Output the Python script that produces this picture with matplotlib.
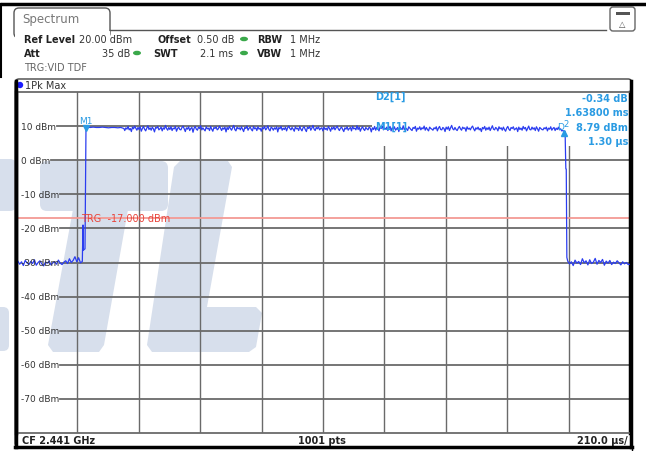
import numpy as np
import matplotlib
matplotlib.use('Agg')
import matplotlib.pyplot as plt
from matplotlib.patches import Polygon, FancyBboxPatch, Rectangle, Ellipse, Circle

# ---------------- data ----------------
sweep_us = 2100.0
div_us = 210.0
y_top, y_bottom = 20, -80
y_ticks = [10, 0, -10, -20, -30, -40, -50, -60, -70]
y_tick_labels = ['10 dBm', '0 dBm', '-10 dBm', '-20 dBm', '-30 dBm',
                 '-40 dBm', '-50 dBm', '-60 dBm', '-70 dBm']
trg_level = -17.0

pre_noise = [-30.2, -29.6, -30.5, -29.8, -30.9, -29.4, -30.1, -30.6, -29.7, -30.3,
             -29.2, -30.8, -30.0, -29.5, -30.4, -31.0, -29.9, -30.2, -29.6, -30.7,
             -30.1, -29.8, -30.5, -29.3, -30.2, -30.6, -29.9, -29.5, -30.3, -28.9,
             -30.0, -29.4, -28.3, -29.8, -28.6, -30.1, -29.7]
edge_t = [229.2, 230.5, 232.6, 236.0, 239.4]
edge_v = [-19.0, -26.4, -26.2, -26.0, 9.9]
flat_v = [9.7, 9.6, 9.7, 9.6, 9.6, 9.7, 9.6, 9.5, 9.6, 9.6, 9.5, 9.6, 9.3]
on_v = [
    8.7, 9.5, 9.1, 9.9, 8.9, 9.3, 8.4, 9.7, 9.2, 10.0, 9.4, 8.8, 9.6, 9.0, 9.8, 8.5, 9.3, 9.9, 9.1, 8.6,
    9.4, 10.1, 9.0, 9.5, 8.8, 9.7, 9.2, 8.3, 9.6, 9.4, 9.9, 8.9, 9.2, 9.7, 8.6, 9.5, 9.1, 10.2, 9.3, 8.8,
    9.6, 9.0, 9.8, 8.7, 9.4, 9.2, 9.9, 8.5, 9.3, 9.7, 9.0, 8.9, 9.6, 10.0, 9.2, 8.4, 9.5, 9.1, 9.8, 8.7,
    9.3, 9.6, 8.2, 9.4, 9.9, 9.1, 8.8, 9.7, 9.3, 10.1, 8.9, 9.5, 9.0, 8.6, 9.8, 9.2, 9.4, 8.7, 9.9, 9.1,
    8.5, 9.6, 9.3, 9.8, 8.9, 9.2, 10.0, 9.4, 8.7, 9.5, 9.1, 9.7, 8.3, 9.6, 9.0, 9.9, 9.3, 8.8, 9.5, 10.2,
    9.0, 8.6, 9.7, 9.2, 9.5, 8.9, 9.8, 9.1, 8.4, 9.6, 9.3, 10.0, 8.8, 9.4, 9.7, 9.0, 8.6, 9.9, 9.2, 9.5,
    8.7, 9.8, 9.1, 9.4, 8.5, 9.6, 9.2, 9.9, 8.9, 9.3, 10.1, 9.0, 8.6, 9.7, 9.4, 8.8, 9.5, 9.1, 9.8, 8.3,
    9.6, 9.2, 9.9, 8.8, 9.4, 9.0, 9.7, 8.6, 9.5, 10.0, 9.3, 8.9, 9.6, 9.1, 8.5, 9.8, 9.2, 9.4, 8.7, 9.9,
    9.1, 8.6, 9.5, 9.8, 9.0, 8.4, 9.7, 9.3, 9.9, 8.8, 9.4, 10.2, 9.1, 8.7, 9.6, 9.2, 9.8, 8.9, 9.3, 9.5,
    8.6, 9.7, 9.0, 9.4, 8.8, 9.9, 9.3, 8.5, 9.6, 9.1, 9.8, 8.9, 9.5, 10.0, 9.2, 8.7, 9.4, 9.7, 9.0, 8.4,
    9.5, 9.1, 9.8, 8.8, 9.3, 9.6, 8.6, 9.9, 9.2, 9.4, 8.9, 10.1, 9.0, 9.7, 8.5, 9.3, 9.8, 9.1, 8.7, 9.6,
    9.2, 8.9, 9.7, 9.4, 8.3, 9.5, 9.0, 9.9, 8.8, 9.6, 9.2, 8.6, 9.8, 9.3, 10.0, 8.9, 9.4, 9.1, 9.7, 8.7,
    9.3, 9.9, 8.6, 9.5, 9.1, 9.8, 8.8, 9.2, 9.6, 8.4, 9.7, 9.3, 9.0, 10.1, 8.9, 9.5, 9.2, 8.7, 9.8, 9.4,
    9.0, 8.7, 9.6, 9.3, 9.9, 8.5, 9.4, 9.1, 9.8, 8.9, 9.5, 9.2, 10.0, 8.8, 9.6, 9.0, 8.6, 9.7, 9.3, 9.1,
    8.8, 9.5, 9.2, 9.8, 8.6, 9.4, 9.9, 9.0, 8.9, 9.6, 9.3, 8.4, 9.7, 9.1, 9.8, 8.7, 9.5, 10.2, 9.2, 8.9,
    9.6, 9.0, 8.7, 9.4, 9.9, 9.2, 8.8, 9.7, 9.3, 9.5, 8.5, 9.8, 9.1, 9.4, 8.9, 9.6, 10.0, 9.2, 8.6, 9.5,
    9.1, 9.7, 8.9, 9.3, 8.4, 9.6, 9.2, 9.9, 8.8, 9.5, 9.0, 9.7, 8.7, 9.4, 10.1, 9.1, 8.9, 9.6, 9.3, 8.6,
    9.8, 9.2, 9.5, 8.8, 9.7, 9.0, 8.5, 9.4, 9.9, 9.1, 8.7, 9.6, 9.3, 9.8, 8.9, 9.2, 9.5, 8.4, 9.7, 9.0,
    9.4, 8.8, 9.9, 9.2, 9.6, 8.6, 9.3, 10.0, 9.0, 8.9, 9.7, 9.1, 9.5, 8.7, 9.8, 9.2, 8.5, 9.6, 9.3, 9.0,
    8.9, 9.5, 9.2, 9.7, 8.6, 9.4, 9.1, 9.8, 8.8, 9.3, 9.6, 8.7, 9.4, 9.0, 9.7, 8.9, 9.2, 8.6, 8.7, 8.5]
fall_t = [1878.0, 1880.5, 1882.0, 1884.0]
fall_v = [8.45, -2.5, -2.6, -28.5]
post_noise = [-29.6, -30.4, -29.8, -30.9, -29.3, -30.2, -29.7, -30.6, -28.9, -30.1,
              -29.5, -30.7, -29.2, -30.3, -29.9, -28.8, -30.5, -29.4, -30.0, -29.1,
              -30.8, -29.6, -30.2, -29.4, -30.6, -29.9, -30.3, -29.5, -30.1, -30.7,
              -29.8, -30.4, -30.0, -30.6, -30.5]

m1_t = 239.4
d2_t = 1878.0

# time positions of the sweep points in each segment
pre_t = np.linspace(0, 226.8, len(pre_noise))
flat_t = np.linspace(243, 369, len(flat_v))
on_t = np.linspace(372, 1874, len(on_v))
post_t = np.linspace(1887, 2100, len(post_noise))

t = np.concatenate([pre_t, edge_t, flat_t, on_t, fall_t, post_t])
v = np.concatenate([pre_noise, edge_v, flat_v, on_v, fall_v, post_noise])

# ---------------- figure ----------------
W, H = 646, 452
fig = plt.figure(figsize=(W / 100, H / 100), dpi=100)
fig.patch.set_facecolor('white')

# background / chrome axes in pixel coordinates (y downwards)
bg = fig.add_axes([0, 0, 1, 1], zorder=0)
bg.set_xlim(0, W)
bg.set_ylim(H, 0)
bg.axis('off')

wm = '#d7dfec'
# watermark letters (C, T, L)
bg.add_patch(FancyBboxPatch((-20, 160), 36, 52, boxstyle='round,pad=0,rounding_size=6',
                            fc=wm, ec='none'))
bg.add_patch(FancyBboxPatch((-20, 308), 29, 44, boxstyle='round,pad=0,rounding_size=6',
                            fc=wm, ec='none'))
bg.add_patch(FancyBboxPatch((40, 162), 128, 50, boxstyle='round,pad=0,rounding_size=7',
                            fc=wm, ec='none'))
bg.add_patch(Polygon([(74, 205), (129, 205), (104, 346), (99, 353), (53, 353), (48, 346)],
                     closed=True, fc=wm, ec='none'))
bg.add_patch(Polygon([(180, 162), (228, 162), (232, 168), (207, 308), (256, 308), (262, 314),
                      (256, 348), (249, 353), (152, 353), (147, 346), (174, 168)],
                     closed=True, fc=wm, ec='none'))

# top black rule and left short rule
bg.plot([0, W], [5, 5], color='black', lw=2.5, solid_capstyle='butt')
bg.plot([1, 1], [5, 78], color='black', lw=1.5)

# Spectrum tab
bg.plot([110, 606], [31, 31], color='#555555', lw=1.0)
bg.add_patch(FancyBboxPatch((14, 9), 96, 30, boxstyle='round,pad=0,rounding_size=5',
                            fc='white', ec='#555555', lw=1.0))
bg.add_patch(Rectangle((14.6, 31.5), 95, 10, fc='white', ec='none'))
bg.text(22, 20, 'Spectrum', fontsize=8.5, color='#777777', va='center', ha='left')

# icon top right
bg.add_patch(FancyBboxPatch((610, 8), 25, 24, boxstyle='round,pad=0,rounding_size=3',
                            fc='white', ec='#666666', lw=1.0))
bg.add_patch(Rectangle((615.5, 12.5), 14, 3.5, fc='#555555', ec='none'))
bg.text(622.5, 24, '\u25b3', fontsize=6, color='#555555', ha='center', va='center')

# info lines
fs = 7
dark = '#222222'
bg.text(24, 40, 'Ref Level', fontsize=fs, weight='bold', color=dark, va='center')
bg.text(79, 40, '20.00 dBm', fontsize=fs, color='#333333', va='center')
bg.text(157, 40, 'Offset', fontsize=fs, weight='bold', color=dark, va='center')
bg.text(197, 40, '0.50 dB', fontsize=fs, color='#333333', va='center')
bg.text(257, 40, 'RBW', fontsize=fs, weight='bold', color=dark, va='center')
bg.text(290, 40, '1 MHz', fontsize=fs, color='#333333', va='center')
bg.text(24, 54, 'Att', fontsize=fs, weight='bold', color=dark, va='center')
bg.text(130, 54, '35 dB', fontsize=fs, color='#333333', va='center', ha='right')
bg.text(153, 54, 'SWT', fontsize=fs, weight='bold', color=dark, va='center')
bg.text(200, 54, '2.1 ms', fontsize=fs, color='#333333', va='center')
bg.text(257, 54, 'VBW', fontsize=fs, weight='bold', color=dark, va='center')
bg.text(290, 54, '1 MHz', fontsize=fs, color='#333333', va='center')
bg.text(24, 68, 'TRG:VID TDF', fontsize=fs, color='#666666', va='center')
for (gx, gy) in [(244, 40), (137, 54), (244, 54)]:
    bg.add_patch(Ellipse((gx, gy), 8, 4.5, fc='#3aa84a', ec='none'))

# 1Pk Max bar
bg.add_patch(Circle((20, 86), 3.2, fc='#1a1aff', ec='none'))
bg.text(25, 86, '1Pk Max', fontsize=fs, color='#333333', va='center')

# bottom bar
bg.text(22, 441, 'CF 2.441 GHz', fontsize=fs, weight='bold', color=dark, va='center')
bg.text(322, 441, '1001 pts', fontsize=fs, weight='bold', color=dark, va='center', ha='center')
bg.text(628, 441, '210.0 \u00b5s/', fontsize=fs, weight='bold', color=dark, va='center', ha='right')

# ---------------- main plot axes ----------------
ax = fig.add_axes([16 / W, (H - 434) / H, 614 / W, 341 / H], zorder=1)
ax.patch.set_alpha(0)
ax.set_xlim(0, sweep_us)
ax.set_ylim(y_bottom, y_top)
ax.set_xticks([])
ax.set_yticks([])
for s in ['top', 'bottom']:
    ax.spines[s].set_color('#6a6a6a')
    ax.spines[s].set_linewidth(1.3)
for s in ['left', 'right']:
    ax.spines[s].set_color('black')
    ax.spines[s].set_linewidth(2.5)

grid_c = '#6a6a6a'
px2t = sweep_us / 614.0
lbls = []
for val, lab in zip(y_ticks, y_tick_labels):
    lbls.append(ax.text(5 * px2t, val, lab, fontsize=6.5, color='#333333',
                        ha='left', va='center', zorder=4))
fig.canvas.draw()
inv = ax.transData.inverted()
box_left_t = (372 - 16) * px2t
box_bottom_v = y_top - (147 - 93) / 341.0 * (y_top - y_bottom)
for val, tl in zip(y_ticks, lbls):
    bb = tl.get_window_extent()
    x0 = inv.transform((bb.x1 + 1, 0))[0]
    ax.plot([x0, sweep_us], [val, val], color=grid_c, lw=1.3, zorder=1)

for k in range(1, 10):
    ax.axvline(k * div_us, color=grid_c, lw=1.0, zorder=1)

# white box behind marker table
ax.add_patch(Rectangle((box_left_t, box_bottom_v), sweep_us - box_left_t,
                       y_top - box_bottom_v, fc='white', ec='none', zorder=1.5))

# trigger line
ax.axhline(trg_level, color='#f39a94', lw=1.3, zorder=2)
ax.text(222, trg_level, 'TRG  -17.000 dBm', fontsize=7, color='#e8453c',
        va='center', ha='left', zorder=4)

# trace
ax.plot(t, v, color='#2b3df0', lw=0.9, zorder=3)

mk = '#2a9be3'
ax.plot([m1_t], [9.3], marker='v', ms=5, color=mk, zorder=4, ls='none')
ax.text(m1_t - 24, 11.7, 'M1', fontsize=6.5, color=mk, ha='left', va='center', zorder=4)
ax.plot([d2_t - 4], [7.9], marker='^', ms=5, color=mk, zorder=4, ls='none')
ax.text(d2_t - 28, 10.0, 'D', fontsize=6.5, color=mk, ha='left', va='center', zorder=4)
ax.text(d2_t - 6, 10.9, '2', fontsize=6.0, color=mk, ha='left', va='center', zorder=4)

ax.text((375 - 16) * px2t, 17.9, 'D2[1]', fontsize=7, color=mk, weight='bold', zorder=4)
ax.text((375 - 16) * px2t, 10.2, 'M1[1]', fontsize=7, color=mk, weight='bold', zorder=4,
        va='center')
rx = (628 - 16) * px2t
for yy, s in [(97.5, '-0.34 dB'), (111, '1.63800 ms'), (126, '8.79 dBm'), (140, '1.30 \u00b5s')]:
    ax.text(rx, y_top - (yy + 2 - 93) / 341.0 * 100, s, fontsize=7, color=mk, weight='bold',
            ha='right', va='center', zorder=4)

# foreground frame
fg = fig.add_axes([0, 0, 1, 1], zorder=2)
fg.set_xlim(0, W)
fg.set_ylim(H, 0)
fg.axis('off')
fg.add_patch(FancyBboxPatch((15, 80), 617, 368, boxstyle='round,pad=0,rounding_size=4',
                            fc='none', ec='#444444', lw=1.0))
fg.plot([15.5, 15.5], [82, 448], color='black', lw=2.5)
fg.plot([631, 631], [82, 448], color='black', lw=2.5)
fg.plot([15, 632], [448, 448], color='black', lw=2.5)
fg.plot([632, 632], [448, 452], color='black', lw=1)

fig.savefig('out.png', dpi=100, facecolor='white')
